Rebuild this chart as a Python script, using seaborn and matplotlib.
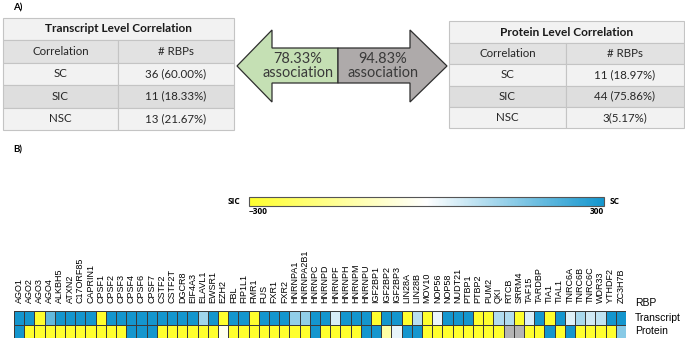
import numpy as np
import pandas as pd
import seaborn as sns
import matplotlib.pyplot as plt
from matplotlib.colors import LinearSegmentedColormap
from matplotlib.patches import Polygon

# RBP names (heatmap columns)
rbps = ["AGO1", "AGO2", "AGO3", "AGO4", "ALKBH5", "ATXN2", "C17ORF85", "CAPRIN1",
        "CPSF1", "CPSF2", "CPSF3", "CPSF4", "CPSF6", "CPSF7", "CSTF2", "CSTF2T",
        "DGCR8", "EIF4A3", "ELAVL1", "EWSR1", "EZH2", "FBL", "FIP1L1", "FMR1",
        "FUS", "FXR1", "FXR2", "HNRNPA1", "HNRNPA2B1", "HNRNPC", "HNRNPD", "HNRNPF",
        "HNRNPH", "HNRNPM", "HNRNPU", "IGF2BP1", "IGF2BP2", "IGF2BP3", "LIN28A", "LIN28B",
        "MOV10", "NOP56", "NOP58", "NUDT21", "PTBP1", "PTBP2", "PUM2", "QKI",
        "RTCB", "SRRM4", "TAF15", "TARDBP", "TIA1", "TIAL1", "TNRC6A", "TNRC6B",
        "TNRC6C", "WDR33", "YTHDF2", "ZC3H7B"]

# correlation scores, -300 (SIC) .. 300 (SC)
transcript = [300, 300, -300, 200, 300, 300, 300, 300,
              -300, 300, 300, 300, 300, 300, 300, 300,
              300, 300, 120, 300, -300, 300, 300, -300,
              300, 300, 300, 140, 140, 300, 300, 50,
              300, 300, 300, -300, 300, 300, -300, 90,
              -300, 25, 300, 300, 300, -300, -300, 100,
              100, -300, 45, 300, -300, 300, 40, 110,
              60, 80, 300, 300]
protein = [300, -300, -300, -300, -300, -300, -300, -300,
           -300, -300, -300, 300, 300, 300, -300, -300,
           -300, -300, -300, -300, -20, -300, -300, -300,
           -300, -300, -300, -300, -300, 300, -300, -300,
           -300, -300, 300, 300, -130, 30, 300, 300,
           -300, -300, -300, -300, -300, -300, -300, -300,
           np.nan, np.nan, -300, -300, 300, -300, 300, -300,
           -300, -300, -300, 150]

corr_classes = ["SC", "SIC", "NSC"]
transcript_counts = ["36 (60.00%)", "11 (18.33%)", "13 (21.67%)"]
protein_counts = ["11 (18.97%)", "44 (75.86%)", "3(5.17%)"]
assoc_labels = ["78.33%\nassociation", "94.83%\nassociation"]

W, H = 685, 340
fig = plt.figure(figsize=(W / 100, H / 100), dpi=100)
renderer = fig.canvas.get_renderer()


def px_axes(x0, y0, x1, y1):
    return fig.add_axes([x0 / W, 1 - y1 / H, (x1 - x0) / W, (y1 - y0) / H])


def fit_size(txt, width_px):
    # scale the font so that the text is width_px wide, as in the reference
    w = txt.get_window_extent(renderer).width
    return txt.get_fontsize() * width_px / w


bg = fig.add_axes([0, 0, 1, 1])
bg.set_xlim(0, W)
bg.set_ylim(H, 0)
bg.axis("off")


def draw_table(x0, y0, x1, y1, title, counts, split, title_w, body_w):
    ax = px_axes(x0, y0, x1, y1)
    ax.axis("off")
    ft = 22 / (y1 - y0)
    t = ax.table(cellText=[[title]], cellLoc="center", bbox=[0, 1 - ft, 1, ft])
    rows = [["Correlation", "# RBPs"]] + [[c, n] for c, n in zip(corr_classes, counts)]
    b = ax.table(cellText=rows, cellLoc="center", colWidths=[split, 1 - split],
                 bbox=[0, 0, 1, 1 - ft])
    for tab in (t, b):
        tab.auto_set_font_size(False)
    fills = ["#e2e2e2", "#f2f2f2", "#dedede", "#f2f2f2"]
    cells = b.get_celld()
    for (r, c), cell in cells.items():
        cell.set_facecolor(fills[r])
        cell.set_edgecolor("#c4c4c4")
        cell.set_linewidth(0.8)
        cell.get_text().set_fontfamily("Lato")
        cell.get_text().set_fontsize(8)
        cell.get_text().set_color("#262626")
    size = fit_size(cells[0, 0].get_text(), body_w)
    for cell in cells.values():
        cell.get_text().set_fontsize(size)
    cell = t[0, 0]
    cell.set_facecolor("#f2f2f2")
    cell.set_edgecolor("#c4c4c4")
    cell.set_linewidth(0.8)
    txt = cell.get_text()
    txt.set_fontfamily("Lato")
    txt.set_fontweight("bold")
    txt.set_color("#1a1a1a")
    txt.set_fontsize(8)
    txt.set_fontsize(fit_size(txt, title_w))


draw_table(3, 18, 234, 130, "Transcript Level Correlation", transcript_counts,
           115 / 231, 147, 57)
draw_table(449, 21, 684, 128, "Protein Level Correlation", protein_counts,
           117 / 235, 133, 57)

# double arrow between the tables
left_arrow = [(237, 66), (272, 30), (272, 48), (338, 48), (338, 83), (272, 83), (272, 102)]
right_arrow = [(447, 66), (410, 30), (410, 48), (338, 48), (338, 83), (410, 83), (410, 102)]
bg.add_patch(Polygon(left_arrow, closed=True, fc="#c5e0b4", ec="#2e2e2e", lw=0.9))
bg.add_patch(Polygon(right_arrow, closed=True, fc="#aeaaaa", ec="#2e2e2e", lw=0.9))
for xc, lab in zip([298, 383], assoc_labels):
    t = bg.text(xc, 66, lab, ha="center", va="center", fontsize=9,
                family="Lato", color="#3a3a3a", linespacing=1.05)
    t.set_fontsize(fit_size(t, 71))

bg.text(13, 8, "A)", fontsize=7, fontweight="bold", va="center", family="Lato")
bg.text(13, 150, "B)", fontsize=7, fontweight="bold", va="center", family="Lato")

# heatmap
cmap = LinearSegmentedColormap.from_list("sic_sc", ["#ffff2e", "#ffffff", "#1496ce"])
df = pd.DataFrame([transcript, protein], index=["Transcript", "Protein"], columns=rbps)
ax = px_axes(14, 311, 626, 338)
ax.set_facecolor("#b4b4b4")
sns.heatmap(df, ax=ax, cmap=cmap, vmin=-300, vmax=300, cbar=False,
            linewidths=0.6, linecolor="#3a3a3a", xticklabels=True, yticklabels=True)
ax.xaxis.tick_top()
ax.set_xticklabels(rbps, rotation=90, fontsize=6.5, family="Liberation Sans")
ax.yaxis.tick_right()
ax.set_yticklabels(df.index, rotation=0, fontsize=7.5, family="Liberation Sans",
                   va="center")
ax.tick_params(axis="x", length=0, pad=6)
ax.tick_params(axis="y", length=0, pad=6.5)
ax.set_xlabel("")
ax.set_ylabel("")
bg.text(635, 303, "RBP", fontsize=7.5, family="Liberation Sans", va="center")

# colour bar
cax = px_axes(249, 197, 604, 206)
cb = fig.colorbar(ax.collections[0], cax=cax, orientation="horizontal", ticks=[-300, 300])
cb.outline.set_edgecolor("#555555")
cb.outline.set_linewidth(0.8)
cax.tick_params(length=0, labelsize=6, pad=1)
ticklabs = cax.get_xticklabels()
for lab in ticklabs:
    lab.set_fontweight("bold")
    lab.set_family("Open Sans")
ticklabs[0].set_ha("left")
ticklabs[1].set_ha("right")
bg.text(240, 202, "SIC", fontsize=6, fontweight="bold", ha="right", va="center",
        family="Open Sans")
bg.text(610, 202, "SC", fontsize=6, fontweight="bold", ha="left", va="center",
        family="Open Sans")

fig.savefig("out.png", dpi=100)
